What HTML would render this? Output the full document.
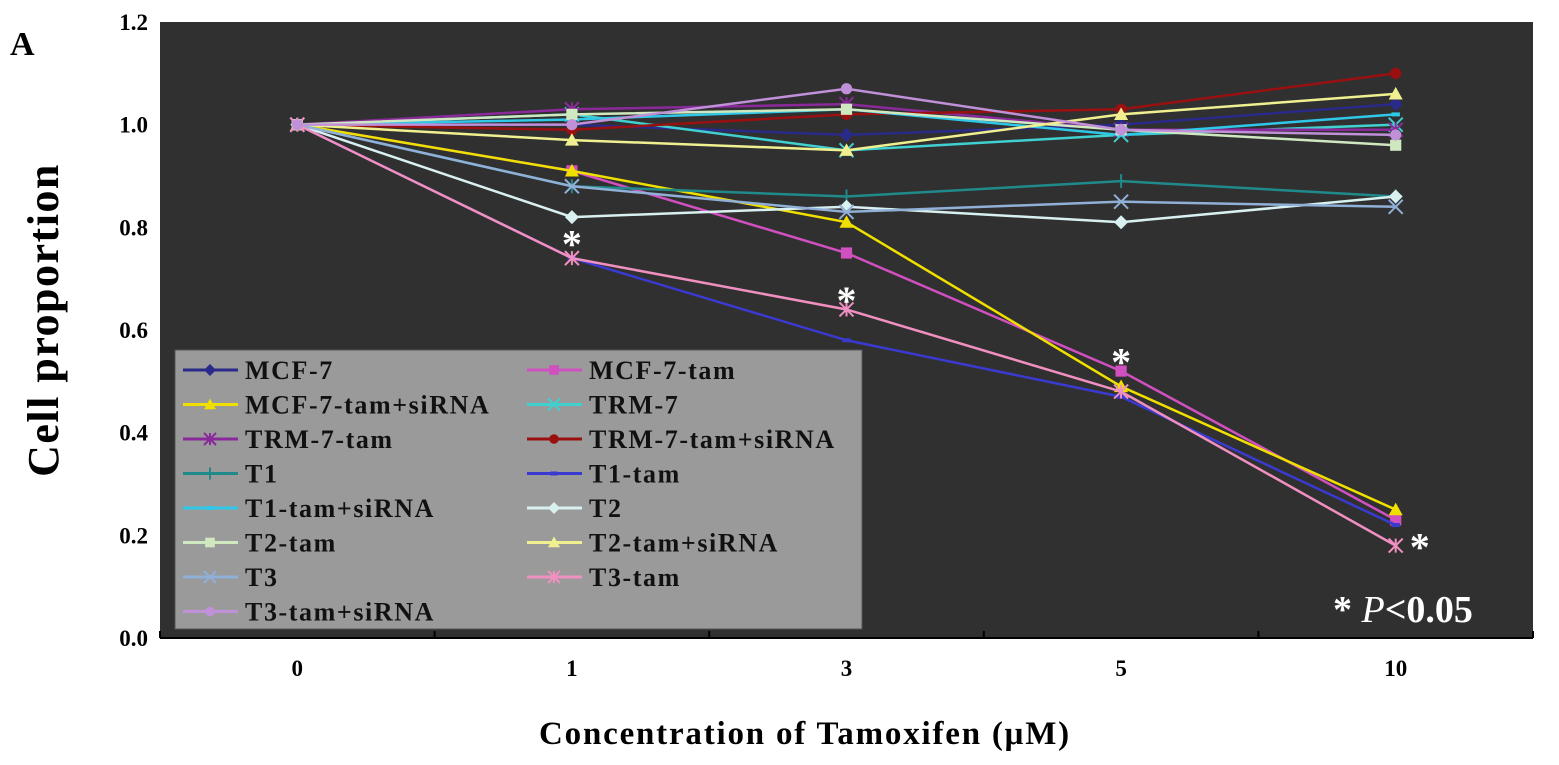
<!DOCTYPE html>
<html><head><meta charset="utf-8"><style>
html,body{margin:0;padding:0;background:#fff;}
svg{display:block;font-family:"Liberation Serif",serif;font-weight:bold;}
</style></head><body>
<svg id="chart" width="1559" height="765" viewBox="0 0 1559 765" xmlns="http://www.w3.org/2000/svg">
<text x="10" y="55" font-size="34" fill="#000">A</text>
<rect x="160" y="22" width="1373" height="616" fill="#303030"/>
<g id="yticks"></g>
<g id="xticks"></g>
<text transform="translate(58,320) rotate(-90)" text-anchor="middle" font-size="44" letter-spacing="1.5" fill="#000">Cell proportion</text>
<text x="805" y="744" text-anchor="middle" font-size="33" letter-spacing="1.8" fill="#000">Concentration of Tamoxifen (μM)</text>
<g id="series"></g>
<g id="stars"></g>
<text x="1333" y="622" font-size="38" fill="#fff">*  <tspan font-style="italic" font-weight="normal">P</tspan>&lt;0.05</text>
<rect x="175" y="350" width="687" height="279" fill="#9a9a9a" stroke="#555" stroke-width="1"/>
<g id="legend"></g>
</svg>
<script>
const categories = ["0","1","3","5","10"];
const yTicks = [0,0.2,0.4,0.6,0.8,1.0,1.2];
const seriesNames = ["MCF-7","MCF-7-tam","MCF-7-tam+siRNA","TRM-7","TRM-7-tam","TRM-7-tam+siRNA","T1","T1-tam","T1-tam+siRNA","T2","T2-tam","T2-tam+siRNA","T3","T3-tam","T3-tam+siRNA"];
const mcf7 = [1,1.00,0.98,1.00,1.04];
const mcf7Tam = [1,0.91,0.75,0.52,0.23];
const mcf7TamSi = [1,0.91,0.81,0.49,0.25];
const trm7 = [1,1.02,0.95,0.98,1.00];
const trm7Tam = [1,1.03,1.04,0.99,0.99];
const trm7TamSi = [1,0.99,1.02,1.03,1.10];
const t1 = [1,0.88,0.86,0.89,0.86];
const t1Tam = [1,0.74,0.58,0.47,0.22];
const t1TamSi = [1,1.01,1.03,0.98,1.02];
const t2 = [1,0.82,0.84,0.81,0.86];
const t2Tam = [1,1.02,1.03,0.99,0.96];
const t2TamSi = [1,0.97,0.95,1.02,1.06];
const t3 = [1,0.88,0.83,0.85,0.84];
const t3Tam = [1,0.74,0.64,0.48,0.18];
const t3TamSi = [1,1.00,1.07,0.99,0.98];
const starPoints = [[1,0.78],[2,0.67],[3,0.55],[4,0.19]];

const allValues=[mcf7,mcf7Tam,mcf7TamSi,trm7,trm7Tam,trm7TamSi,t1,t1Tam,t1TamSi,t2,t2Tam,t2TamSi,t3,t3Tam,t3TamSi];
const colors=["#2a2a8a","#d050c0","#f0e000","#40d0d0","#8a2a9a","#9a1010","#208a8a","#3a3ad0","#30c8e8","#d8f0f0","#d0e8c0","#f0f090","#90b0d8","#f090c0","#c090d8"];
const markers=["diamond","square","triangle","x","star","circle","plus","dash","dash","diamond","square","triangle","x","star","circle"];
const NS="http://www.w3.org/2000/svg";
const X0=160,W=1373,Y0=638,H=616;
function xs(i){return X0+W*(i+0.5)/categories.length;}
function ys(v){return Y0-v/1.2*H;}
function mk(tag,attrs,parent){const e=document.createElementNS(NS,tag);for(const k in attrs)e.setAttribute(k,attrs[k]);parent.appendChild(e);return e;}
const yt=document.getElementById('yticks');
yTicks.forEach(v=>{const t=mk('text',{x:148,y:ys(v)+8,'text-anchor':'end','font-size':23,fill:'#000'},yt);t.textContent=v.toFixed(1);

});
const xt=document.getElementById('xticks');
const ax=mk('line',{x1:X0,x2:X0+W,y1:Y0,y2:Y0,stroke:'#000','stroke-width':2},xt);


for(let i=0;i<=categories.length;i++){const x=X0+W*i/categories.length;const l=mk('line',{x1:x,x2:x,y1:Y0,y2:Y0-7,stroke:'#000','stroke-width':2},xt);

}
categories.forEach((c,i)=>{const t=mk('text',{x:xs(i),y:676,'text-anchor':'middle','font-size':23,fill:'#000'},xt);t.textContent=c;

});
function marker(g,type,x,y,c,s){
 if(type==='diamond')mk('path',{d:`M${x},${y-s}L${x+s},${y}L${x},${y+s}L${x-s},${y}Z`,fill:c},g);
 else if(type==='square')mk('rect',{x:x-s*0.8,y:y-s*0.8,width:s*1.6,height:s*1.6,fill:c},g);
 else if(type==='triangle')mk('path',{d:`M${x},${y-s}L${x+s},${y+s*0.8}L${x-s},${y+s*0.8}Z`,fill:c},g);
 else if(type==='circle')mk('circle',{cx:x,cy:y,r:s*0.8,fill:c},g);
 else if(type==='x')mk('path',{d:`M${x-s},${y-s}L${x+s},${y+s}M${x+s},${y-s}L${x-s},${y+s}`,stroke:c,'stroke-width':2},g);
 else if(type==='star')mk('path',{d:`M${x-s},${y-s}L${x+s},${y+s}M${x+s},${y-s}L${x-s},${y+s}M${x},${y-s}L${x},${y+s}`,stroke:c,'stroke-width':2},g);
 else if(type==='plus')mk('path',{d:`M${x},${y-s}L${x},${y+s}`,stroke:c,'stroke-width':2},g);
 else if(type==='dash')mk('rect',{x:x-s*0.6,y:y-2,width:s*1.2,height:4,fill:c},g);
}
const sg=document.getElementById('series');
allValues.forEach((vals,k)=>{const g=mk('g',{},sg);


 mk('polyline',{points:vals.map((v,i)=>xs(i)+','+ys(v)).join(' '),fill:'none',stroke:colors[k],'stroke-width':2.5},g);
 vals.forEach((v,i)=>marker(g,markers[k],xs(i),ys(v),colors[k],7));});
const st=document.getElementById('stars');
starPoints.forEach(p=>{const x=p[0]===4?xs(4)+24:xs(p[0]);const t=mk('text',{x:x,y:ys(p[1])+20,'text-anchor':'middle','font-size':40,fill:'#fff'},st);t.textContent='*';

});
const lg=document.getElementById('legend');
seriesNames.forEach((n,k)=>{const col=k%2,row=Math.floor(k/2);const lx=col?527:183,ly=370+row*34.5;
 const g=mk('g',{},lg);
 
 
 mk('line',{x1:lx,x2:lx+55,y1:ly,y2:ly,stroke:colors[k],'stroke-width':3},g);
 marker(g,markers[k],lx+27,ly,colors[k],6);
 const t=mk('text',{x:lx+62,y:ly+9,'font-size':26,'letter-spacing':1.6,fill:'#111'},g);t.textContent=n;});
</script>
</body></html>
